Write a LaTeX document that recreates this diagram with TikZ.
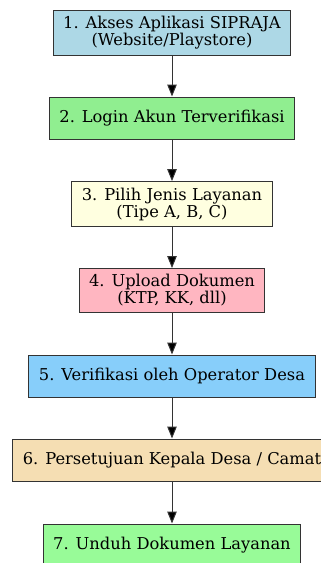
\documentclass[tikz,border=0pt]{standalone}
\usepackage{fontspec}
\setmainfont{DejaVu Serif}
\usetikzlibrary{arrows.meta}
\definecolor{lightblue}{HTML}{ADD8E6}
\definecolor{lightgreen}{HTML}{90EE90}
\definecolor{lightyellow}{HTML}{FFFFE0}
\definecolor{lightpink}{HTML}{FFB6C1}
\definecolor{lightskyblue}{HTML}{87CEFA}
\definecolor{wheat}{HTML}{F5DEB3}
\definecolor{palegreen}{HTML}{98FB98}
\definecolor{edgegray}{HTML}{333333}
\tikzset{
  box/.style={draw=edgegray,line width=1pt,align=center,inner xsep=10pt,inner ysep=6pt,
    minimum height=42pt,font=\fontsize{16.3}{17}\selectfont},
  flow/.style={draw=edgegray,line width=1pt,-{Triangle[width=9.5pt,length=12pt,fill=black]}}
}
\begin{document}
\begin{tikzpicture}[x=1pt,y=1pt]
 \useasboundingbox (0,0) rectangle (321,-563);
 \clip (0,0) rectangle (321,-563);
 % langkah layanan
 \node[box,fill=lightblue] (akses) at (172,-32.5) {1. Akses Aplikasi SIPRAJA\\(Website/Playstore)};
 \node[box,fill=lightgreen] (login) at (172,-118) {2. Login Akun Terverifikasi};
 \node[box,fill=lightyellow] (pilih) at (172,-204) {3. Pilih Jenis Layanan\\(Tipe A, B, C)};
 \node[box,fill=lightpink] (upload) at (172,-290.5) {4. Upload Dokumen\\(KTP, KK, dll)};
 \node[box,fill=lightskyblue] (verif) at (172,-376) {5. Verifikasi oleh Operator Desa};
 \node[box,fill=wheat] (setuju) at (172,-460) {6. Persetujuan Kepala Desa / Camat};
 \node[box,fill=palegreen] (unduh) at (172,-545) {7. Unduh Dokumen Layanan};
 % panah antar langkah
 \draw[flow] (akses) -- (login);
 \draw[flow] (login) -- (pilih);
 \draw[flow] (pilih) -- (upload);
 \draw[flow] (upload) -- (verif);
 \draw[flow] (verif) -- (setuju);
 \draw[flow] (setuju) -- (unduh);
\end{tikzpicture}
\end{document}
